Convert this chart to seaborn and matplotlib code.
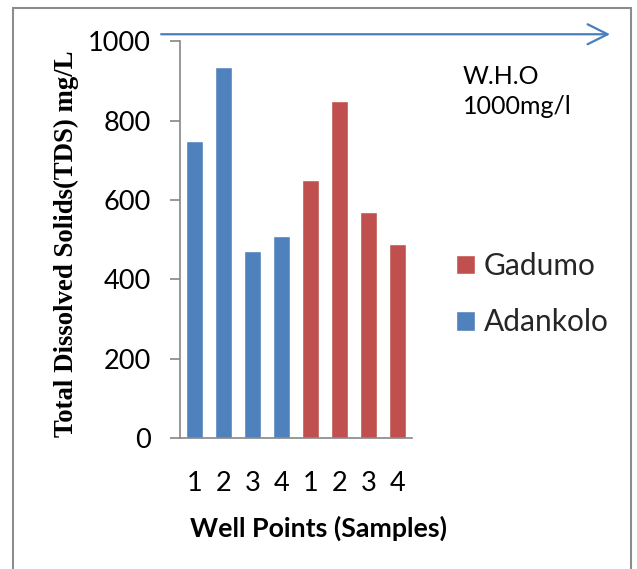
import matplotlib
matplotlib.use("Agg")
import matplotlib.pyplot as plt
import seaborn as sns
import pandas as pd
from matplotlib.patches import Rectangle

# ---- data ----
well_ids = ["A1", "A2", "A3", "A4", "G1", "G2", "G3", "G4"]
tick_labels = ["1", "2", "3", "4", "1", "2", "3", "4"]
groups = ["Adankolo"] * 4 + ["Gadumo"] * 4
tds_values = [750, 935, 472, 510, 650, 850, 570, 490]
who_limit = 1000
legend_order = ["Gadumo", "Adankolo"]
palette = {"Adankolo": "#4F81BD", "Gadumo": "#C0504D"}

df = pd.DataFrame({"well": well_ids, "tds": tds_values, "group": groups})

sns.set_theme(style="white")
plt.rcParams["font.family"] = ["Lato", "DejaVu Sans"]

W, H = 637, 569
fig = plt.figure(figsize=(W / 100, H / 100), dpi=100)
ax = fig.add_axes([180 / W, (H - 438) / H, 232 / W, 396.6 / H])

sns.barplot(data=df, x="well", y="tds", hue="group", dodge=False,
            palette=palette, width=0.575, saturation=1, ax=ax, legend=True)

ax.set_xlim(-0.5, 7.5)
ax.set_ylim(0, 1000)
ax.set_yticks([0, 200, 400, 600, 800, 1000])
ax.set_xticks(range(len(tick_labels)))
ax.set_xticklabels(tick_labels)

for s in ["top", "right"]:
    ax.spines[s].set_visible(False)
for s in ["left", "bottom"]:
    ax.spines[s].set_color("#868686")
    ax.spines[s].set_linewidth(1.2)

ax.tick_params(axis="y", direction="out", length=7.2, width=1.2, color="#868686",
               pad=14, labelsize=19.5, labelcolor="black", left=True)
ax.tick_params(axis="x", length=0, pad=24, labelsize=19.5, labelcolor="black")

ax.set_xlabel("Well Points (Samples)", fontsize=19.3, fontweight="bold", color="black")
ax.xaxis.set_label_coords(0.599, -0.197)
ax.set_ylabel("Total Dissolved Solids(TDS) mg/L", fontsize=19.3, fontweight="bold",
              family=["Liberation Serif"], color="black")
ax.yaxis.set_label_coords(-0.435, 0.489)

# legend
handles, labels = ax.get_legend_handles_labels()
hmap = dict(zip(labels, handles))
ax.legend([hmap[k] for k in legend_order], legend_order, frameon=False,
          loc="upper left", bbox_to_anchor=(456 / W, 1 - 252 / H),
          bbox_transform=fig.transFigure, borderaxespad=0, borderpad=0,
          handlelength=0.63, handleheight=0.63, handletextpad=0.3,
          labelspacing=0.95, fontsize=21.5)

# WHO limit arrow and text
arrow_y = who_limit + 18
ax.annotate("", xy=(14.33, arrow_y), xytext=(-1.15, arrow_y), xycoords="data",
            annotation_clip=False,
            arrowprops=dict(arrowstyle="->,head_length=14.4,head_width=7.2",
                            mutation_scale=1, color="#4A7EBB", lw=1.6,
                            shrinkA=0, shrinkB=0))
fig.text(463 / W, 1 - 65 / H, "W.H.O\n1000mg/l", fontsize=18, va="top", ha="left",
         linespacing=1.35, color="black")

# figure border
fig.patches.append(Rectangle((13 / W, -0.02), (631 - 13) / W, 1 - 8 / H + 0.02,
                             transform=fig.transFigure, fill=False,
                             edgecolor="#8C8C8C", lw=1.5))

fig.savefig("out.png", dpi=100)
